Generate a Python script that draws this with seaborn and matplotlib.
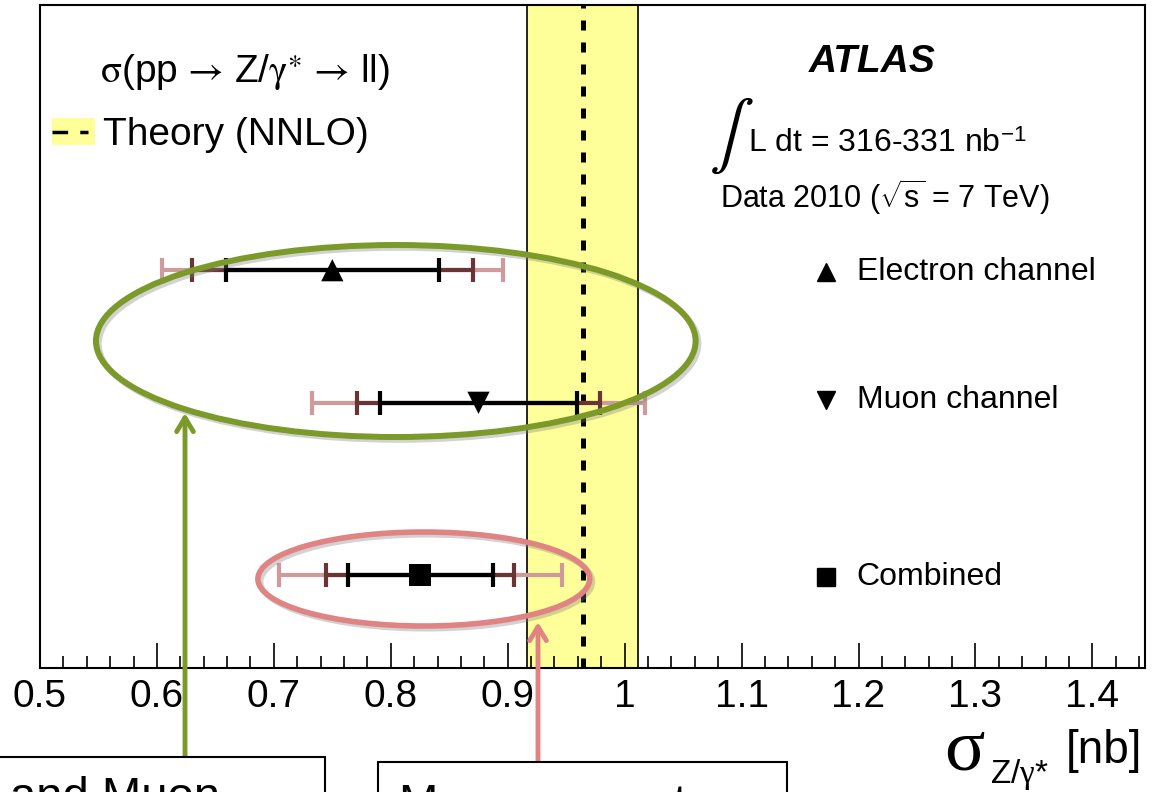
import numpy as np
import pandas as pd
import matplotlib
matplotlib.use("Agg")
import matplotlib.pyplot as plt
import seaborn as sns
from matplotlib.patches import Ellipse, Rectangle, FancyArrowPatch
from matplotlib.lines import Line2D
from matplotlib.ticker import MultipleLocator, FixedLocator, FixedFormatter
import matplotlib.patheffects as pe

# ---------------- data ----------------
channels = ["Electron channel", "Muon channel", "Combined"]
central = [0.750, 0.875, 0.825]
err_inner = [0.091, 0.084, 0.062]   # black
err_mid = [0.120, 0.104, 0.080]     # dark brown
err_outer = [0.146, 0.142, 0.121]   # light pink
ypos = [3.0, 2.0, 0.7]
marker_shapes = ["^", "v", "s"]
theory_central = 0.964
theory_err = 0.0475
xtick_values = [0.5, 0.6, 0.7, 0.8, 0.9, 1.0, 1.1, 1.2, 1.3, 1.4]
xtick_labels = ["0.5", "0.6", "0.7", "0.8", "0.9", "1", "1.1", "1.2", "1.3", "1.4"]

# ---------------- style ----------------
sns.set_theme(style="white")
plt.rcParams["font.family"] = ["Liberation Sans", "DejaVu Sans"]
plt.rcParams["mathtext.fontset"] = "custom"
plt.rcParams["mathtext.rm"] = "Liberation Serif"
plt.rcParams["mathtext.it"] = "Liberation Serif:italic"
plt.rcParams["mathtext.sf"] = "Liberation Sans"
plt.rcParams["text.color"] = "black"
plt.rcParams["axes.labelcolor"] = "black"
plt.rcParams["xtick.color"] = "black"

W, H = 1153, 792
fig = plt.figure(figsize=(W / 100, H / 100), dpi=100)
fig.patch.set_facecolor("white")


def fx(px):
    return px / W


def fy(py):
    return 1 - py / H


ax = fig.add_axes([fx(40), fy(668), (1145 - 40) / W, (668 - 5) / H])
ax.set_xlim(0.5, 1.445)
ax.set_ylim(0, 5)
ax.set_facecolor("white")

# theory band
ax.axvspan(theory_central - theory_err, theory_central + theory_err,
           facecolor="#ffff99", edgecolor="none", zorder=0)
for xv in (theory_central - theory_err, theory_central + theory_err):
    ax.axvline(xv, color="black", lw=1.2, zorder=1)
ax.axvline(theory_central, color="black", lw=3.6, dashes=(2.0, 2.4), zorder=2)

# error bars (outer -> inner)
pink = "#d09a9a"
brown = "#683434"
for errs, col in ((err_outer, pink), (err_mid, brown), (err_inner, "black")):
    ax.errorbar(central, ypos, xerr=errs, fmt="none", ecolor=col,
                elinewidth=3.0, capsize=8.6, capthick=3.0, zorder=3)

df = pd.DataFrame({"channel": channels, "central": central, "y": ypos})
sns.scatterplot(data=df, x="central", y="y", style="channel",
                markers=dict(zip(channels, marker_shapes)), s=256,
                color="black", linewidth=0, legend=False, ax=ax, zorder=5)

# axes styling
ax.set_xlabel("")
ax.set_ylabel("")
ax.set_yticks([])
ax.xaxis.set_major_locator(FixedLocator(xtick_values))
ax.xaxis.set_major_formatter(FixedFormatter(xtick_labels))
ax.xaxis.set_minor_locator(MultipleLocator(0.02))
ax.tick_params(axis="x", which="major", direction="in", length=18, width=1.2,
               labelsize=28, pad=8, colors="black", bottom=True, top=False)
ax.tick_params(axis="x", which="minor", direction="in", length=9, width=1.2,
               colors="black", bottom=True, top=False)
for sp in ax.spines.values():
    sp.set_visible(True)
    sp.set_color("black")
    sp.set_linewidth(1.5)

# right-hand channel labels
label_y_axes = [0.597, 0.404, 0.137]
for m, lab, yy in zip(marker_shapes, channels, label_y_axes):
    ax.plot([0.711], [yy], marker=m, color="black", markersize=13,
            linestyle="none", transform=ax.transAxes, zorder=6)
    ax.text(0.739, yy, lab, transform=ax.transAxes, fontsize=23,
            va="center", ha="left", color="black")

# ellipses (annotations)
green = "#7b9a2a"
salmon = "#e08383"
shadow = [pe.SimpleLineShadow(offset=(2, -2), shadow_color="gray", alpha=0.35), pe.Normal()]
e1 = Ellipse((0.5 + (396 - 40) / 1170, (668 - 341) / 663 * 5), 600 / 1170, 192 / 663 * 5,
             fill=False, edgecolor=green, lw=4.3, zorder=7)
e1.set_path_effects(shadow)
ax.add_patch(e1)
e2 = Ellipse((0.5 + (424 - 40) / 1170, (668 - 579) / 663 * 5), 332 / 1170, 94 / 663 * 5,
             fill=False, edgecolor=salmon, lw=4.0, zorder=7)
e2.set_path_effects(shadow)
ax.add_patch(e2)

# texts in upper area
fig.text(fx(100), fy(82),
         r"$\mathrm{\sigma}$(pp$\,\rightarrow\,$Z/$\mathrm{\gamma}^{\ast}$$\,\rightarrow\,$ll)",
         fontsize=28, ha="left", va="baseline", color="black", math_fontfamily="stix")
fig.text(fx(103), fy(145), "Theory (NNLO)", fontsize=28, ha="left", va="baseline",
         color="black")
fig.add_artist(Rectangle((fx(52), fy(145)), fx(95) - fx(52), fy(118) - fy(145),
                         transform=fig.transFigure, facecolor="#ffff99", edgecolor="none"))
fig.add_artist(Line2D([fx(52), fx(88)], [fy(132), fy(132)], transform=fig.transFigure,
                      color="black", lw=2.5, dashes=(4.5, 3.5)))

fig.text(fx(872), fy(72), "ATLAS", fontsize=28, weight="bold", style="italic",
         ha="center", va="baseline", color="black")
fig.text(fx(709), fy(153), r"$\int$", fontsize=48, ha="left", va="baseline",
         math_fontfamily="stix", color="black")
fig.text(fx(748), fy(152), r"L dt = 316-331 nb$^{\mathsf{-1}}$", fontsize=23,
         ha="left", va="baseline", color="black")
fig.text(fx(720), fy(208), r"Data 2010 ($\sqrt{\mathsf{s}}$ = 7 TeV)", fontsize=22,
         ha="left", va="baseline", color="black")

# x axis label (sigma, subscript, unit)
fig.text(fx(944), fy(769), "σ", fontsize=54, family=["Liberation Serif"],
         ha="left", va="baseline", color="black")
fig.text(fx(990), fy(783), r"Z/$\mathrm{\gamma}$*", fontsize=24,
         ha="left", va="baseline", color="black")
fig.text(fx(1142), fy(763), "[nb]", fontsize=33, ha="right", va="baseline", color="black")

# arrows
fig.add_artist(FancyArrowPatch((fx(185), fy(757)), (fx(185), fy(413)), transform=fig.transFigure,
                               arrowstyle="->,head_length=10,head_width=6", color=green,
                               lw=3.5, shrinkA=0, shrinkB=0))
fig.add_artist(FancyArrowPatch((fx(538), fy(762)), (fx(538), fy(622)), transform=fig.transFigure,
                               arrowstyle="->,head_length=10,head_width=6", color=salmon,
                               lw=3.5, shrinkA=0, shrinkB=0))

# partially visible callout boxes
fig.add_artist(Rectangle((fx(-20), fy(810)), fx(325) - fx(-20), fy(757) - fy(810),
                         transform=fig.transFigure, facecolor="white", edgecolor="black", lw=1.5))
fig.add_artist(Rectangle((fx(378), fy(810)), fx(787) - fx(378), fy(762) - fy(810),
                         transform=fig.transFigure, facecolor="white", edgecolor="black", lw=1.5))
fig.text(fx(10), fy(810), "and Muon", fontsize=34, ha="left", va="baseline", color="black")
fig.text(fx(398), fy(817), "Measurement", fontsize=34, ha="left", va="baseline", color="black")

fig.savefig("out.png", dpi=100)
